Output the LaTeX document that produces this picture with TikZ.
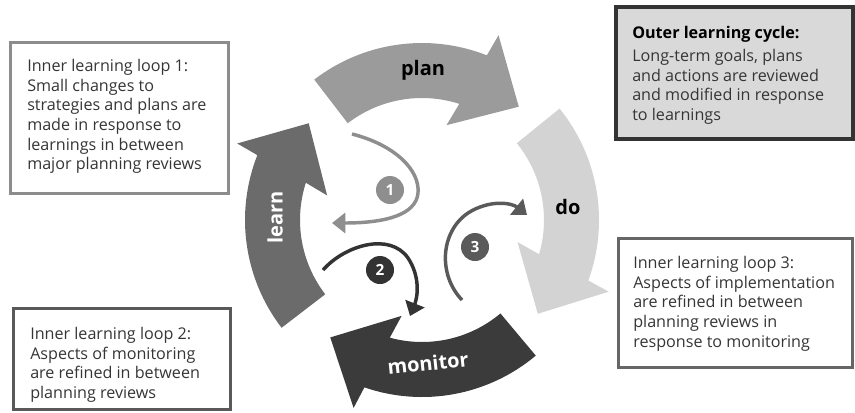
\documentclass[tikz,border=0pt]{standalone}
\usepackage{fontspec}
\setmainfont{Open Sans}
\usetikzlibrary{arrows.meta}
\definecolor{planc}{HTML}{9B9B9B}
\definecolor{doc}{HTML}{D3D3D3}
\definecolor{monc}{HTML}{3B3B3B}
\definecolor{learnc}{HTML}{6B6B6B}
\definecolor{onec}{HTML}{8E8E8E}
\definecolor{twoc}{HTML}{333333}
\definecolor{threec}{HTML}{5A5A5A}
\definecolor{txtc}{HTML}{353535}
\definecolor{outerfill}{HTML}{D9D9D9}
\newcommand\cycarrow[2]{%
  \fill[#2] (#1:177) arc[start angle=#1, end angle={#1-59}, radius=177]
    -- ({#1-60}:200) -- ({#1-78}:149) -- ({#1-52}:98) -- ({#1-55.3}:122)
    arc[start angle={#1-55.3}, end angle=#1, radius=122] -- cycle;}
\tikzset{
  boxtext/.style={anchor=north west, inner sep=0pt, align=left, text=txtc,
    font=\fontsize{12.1pt}{14.8pt}\selectfont},
  cyclabel/.style={inner sep=0pt, font=\fontsize{15pt}{18pt}\selectfont\bfseries},
  numcirc/.style={circle, inner sep=0pt, minimum size=21pt, text=white,
    font=\fontsize{11.5pt}{13pt}\selectfont\bfseries},
  loopline/.style={line width=2.6pt, -{Triangle[length=10pt,width=15pt]}},
}
\begin{document}
\begin{tikzpicture}[x=0.75pt,y=-0.75pt]
\useasboundingbox (0,0) rectangle (855,412);
% cycle arrows
\begin{scope}[shift={(422,220)}, yscale=-1]
  \cycarrow{127.5}{planc}
  \cycarrow{39}{doc}
  \cycarrow{-50}{monc}
  \cycarrow{217.5}{learnc}
\end{scope}
\node[cyclabel, text=black] (plan) at (423,70) {plan};
\node[cyclabel, text=black] (do) at (568,207) {do};
\node[cyclabel, text=white, rotate=6] (monitor) at (428,363) {monitor};
\node[cyclabel, text=white, rotate=90] (learn) at (275,217) {learn};
% numbered circles
\node[numcirc, fill=onec] (n1) at (390,190) {1};
\node[numcirc, fill=twoc] (n2) at (380,270) {2};
\node[numcirc, fill=threec] (n3) at (475,247) {3};
% inner loop arrows
\coordinate (a1s) at (352,134);
\coordinate (a1e) at (332,223);
\coordinate (a2s) at (323,270);
\coordinate (a2e) at (410,316);
\coordinate (a3s) at (462,300);
\coordinate (a3e) at (527,215);
\draw[loopline, onec] (a1s) .. controls (395,145) and (420,170) .. (418,193)
  .. controls (416,215) and (385,223) .. (a1e);
\draw[loopline, twoc] (a2s) .. controls (345,245) and (390,232) .. (408,258)
  .. controls (420,276) and (418,296) .. (a2e);
\draw[loopline, threec] (a3s) .. controls (438,275) and (440,232) .. (468,213)
  .. controls (490,199) and (512,203) .. (a3e);
% text boxes
\draw[line width=2.25pt, draw=gray!90] (10,42) rectangle (228,193);
\node[boxtext] (t1) at (27,58.8) {Inner learning loop 1:\\Small changes to\\strategies and plans are\\made in response to\\learnings in between\\major planning reviews};
\draw[line width=2.25pt, draw=black!65] (13,308) rectangle (230,409);
\node[boxtext] (t2) at (30,326.8) {Inner learning loop 2:\\Aspects of monitoring\\are refined in between\\planning reviews};
\draw[line width=2.25pt, draw=black!60] (618,238) rectangle (852,367);
\node[boxtext] (t3) at (633,255.8) {Inner learning loop 3:\\Aspects of implementation\\are refined in between\\planning reviews in\\response to monitoring};
\draw[line width=3pt, draw=black!80, fill=outerfill] (616,7) rectangle (853,139);
\node[boxtext, text=black, font=\fontsize{12.1pt}{14.8pt}\selectfont\bfseries] (th) at (632,26) {Outer learning cycle:};
\node[boxtext] (t4) at (632,48.8) {Long-term goals, plans\\and actions are reviewed\\and modified in response\\to learnings};
\end{tikzpicture}
\end{document}
